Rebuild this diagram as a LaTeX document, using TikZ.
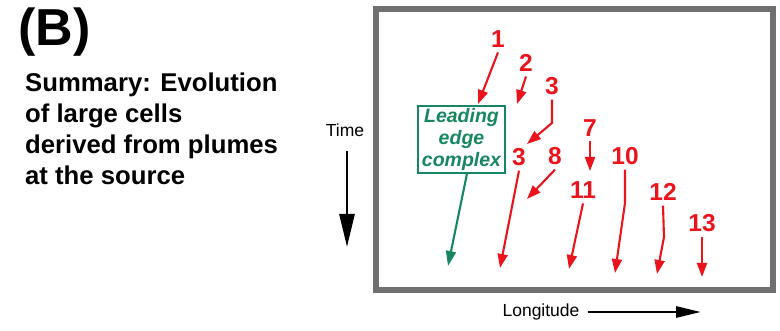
\documentclass[tikz,border=0pt]{standalone}
\usepackage{fontspec}
\setmainfont{Liberation Sans}
\usetikzlibrary{arrows.meta}
\definecolor{redA}{RGB}{235,20,28}
\definecolor{greenA}{RGB}{22,135,95}
\definecolor{frameG}{RGB}{112,112,112}
\begin{document}
\begin{tikzpicture}[x=1pt,y=-1pt,
  num/.style={text=redA, font=\fontsize{24.5}{24}\selectfont\bfseries, inner sep=0pt, outer sep=5pt},
  rarr/.style={draw=redA, line width=2.1pt, -{Triangle[length=14pt,width=10pt]}},
  garr/.style={draw=greenA, line width=2.1pt, -{Triangle[length=15pt,width=10pt]}},
  karr/.style={draw=black, line width=2.7pt},
  lbl/.style={font=\fontsize{17.5}{20}\selectfont, inner sep=0pt}]
\useasboundingbox (0,0) rectangle (780,331);
\fill[white] (0,0) rectangle (780,331);
% left texts
\node[anchor=west, inner sep=0pt, font=\fontsize{52}{52}\selectfont\bfseries] (B) at (18,32) {(B)};
\node[anchor=north west, inner sep=0pt, align=left, font=\fontsize{25.7}{31}\selectfont\bfseries] (summ) at (25,73)
  {Summary: Evolution\\of large cells\\derived from plumes\\at the source};
\node[lbl] (time) at (345,130) {Time};
\coordinate (tend) at (347,247);
\draw[karr, -{Triangle[length=33pt,width=15pt]}, shorten <=14pt] (time.south -| tend) -- (tend);
\node[lbl] (long) at (541,312) {Longitude};
\coordinate (lend) at (701,312);
\draw[karr, -{Triangle[length=25pt,width=11pt]}, shorten <=8pt] (long.east) -- (lend);
% frame
\draw[frameG, line width=6pt] (376,9) rectangle (773,290);
% leading edge complex
\node[draw=greenA, line width=1.3pt, text=greenA, minimum width=87pt, minimum height=67pt, inner sep=0pt,
  align=center, font=\fontsize{19.5}{22}\selectfont\bfseries\itshape] (lec) at (461.5,139.5) {Leading\\edge\\complex};
\coordinate (eg) at (448,266);
\draw[garr] ([xshift=5.5pt]lec.south) -- (eg);
% red labels
\node[num] (n1) at (498,39) {1};
\node[num] (n2) at (526,63) {2};
\node[num] (n3a) at (552,86) {3};
\node[num] (n7) at (590,128) {7};
\node[num] (n3b) at (519,157) {3};
\node[num] (n8) at (555,156) {8};
\node[num] (n10) at (625,156) {10};
\node[num] (n11) at (583,190) {11};
\node[num] (n12) at (663,192) {12};
\node[num] (n13) at (702,223) {13};
% ends
\coordinate (e1) at (478,104);
\coordinate (e2) at (517,104);
\coordinate (k3a) at (552,123);
\coordinate (e3a) at (527,144);
\coordinate (e7) at (590,171);
\coordinate (e3b) at (500,268);
\coordinate (e8) at (527,199);
\coordinate (k10) at (625,203);
\coordinate (e10) at (615,273);
\coordinate (e11) at (569,269);
\coordinate (k12) at (664,237);
\coordinate (e12) at (657,274);
\coordinate (e13) at (702,277);
% red arrows
\draw[rarr] (n1.south) -- (e1);
\draw[rarr] (n2.south) -- (e2);
\draw[rarr] (n3a.south) -- (k3a) -- (e3a);
\draw[rarr] (n7.south) -- (e7);
\draw[rarr] (n3b.south) -- (e3b);
\draw[rarr] (n8.south) -- (e8);
\draw[rarr] (n10.south) -- (k10) -- (e10);
\draw[rarr] (n11.south) -- (e11);
\draw[rarr] (n12.south) -- (k12) -- (e12);
\draw[rarr] (n13.south) -- (e13);
\end{tikzpicture}
\end{document}
